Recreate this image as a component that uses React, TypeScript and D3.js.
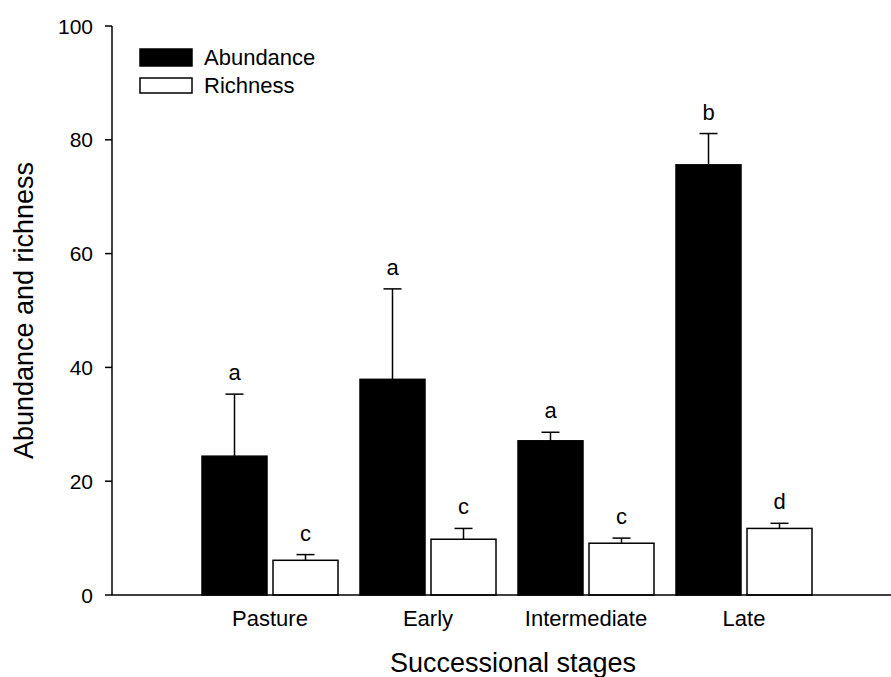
import React, { useEffect, useRef } from "react";
import * as d3 from "d3";

const stages = ["Pasture", "Early", "Intermediate", "Late"];
const abundance = [24.4, 37.9, 27.1, 75.6];
const abundanceErr = [10.9, 15.9, 1.5, 5.5];
const richness = [6.1, 9.8, 9.1, 11.7];
const richnessErr = [1.0, 1.9, 0.9, 0.9];
const abundanceLetters = ["a", "a", "a", "b"];
const richnessLetters = ["c", "c", "c", "d"];
const yTicks = [0, 20, 40, 60, 80, 100];

const App: React.FC = () => {
  const svgRef = useRef<SVGSVGElement | null>(null);

  useEffect(() => {
    if (!svgRef.current) return;
    const svg = d3.select(svgRef.current);
    svg.selectAll("*").remove();

    const font = "'Liberation Sans', Arial, sans-serif";
    const x = d3.scaleLinear().domain([0, 5]).range([112, 902]);
    const y = d3.scaleLinear().domain([0, 100]).range([595, 26]);
    const barW = 65;
    const gap = 6;

    const series = [
      { vals: abundance, err: abundanceErr, letters: abundanceLetters, fill: "#000", off: -gap / 2 - barW },
      { vals: richness, err: richnessErr, letters: richnessLetters, fill: "#fff", off: gap / 2 },
    ];

    series.forEach(s => {
      const g = svg.append("g");
      // error bars (upper only)
      g.selectAll("line.err")
        .data(s.vals)
        .enter()
        .append("line")
        .attr("x1", (d, i) => x(i + 1) + s.off + barW / 2)
        .attr("x2", (d, i) => x(i + 1) + s.off + barW / 2)
        .attr("y1", d => y(d))
        .attr("y2", (d, i) => y(d + s.err[i]))
        .attr("stroke", "#000")
        .attr("stroke-width", 1.5);
      g.selectAll("line.cap")
        .data(s.vals)
        .enter()
        .append("line")
        .attr("x1", (d, i) => x(i + 1) + s.off + barW / 2 - 9)
        .attr("x2", (d, i) => x(i + 1) + s.off + barW / 2 + 9)
        .attr("y1", (d, i) => y(d + s.err[i]))
        .attr("y2", (d, i) => y(d + s.err[i]))
        .attr("stroke", "#000")
        .attr("stroke-width", 1.5);
      g.selectAll("rect")
        .data(s.vals)
        .enter()
        .append("rect")
        .attr("x", (d, i) => x(i + 1) + s.off)
        .attr("y", d => y(d))
        .attr("width", barW)
        .attr("height", d => y(0) - y(d))
        .attr("fill", s.fill)
        .attr("stroke", "#000")
        .attr("stroke-width", 1.5);
      g.selectAll("text")
        .data(s.letters)
        .enter()
        .append("text")
        .attr("x", (d, i) => x(i + 1) + s.off + barW / 2)
        .attr("y", (d, i) => y(s.vals[i] + s.err[i]) - 14)
        .attr("text-anchor", "middle")
        .style("font-family", font)
        .style("font-size", "22px")
        .text(d => d);
    });

    // axes
    svg.append("line")
      .attr("x1", x(0)).attr("x2", 891)
      .attr("y1", y(0)).attr("y2", y(0))
      .attr("stroke", "#000").attr("stroke-width", 1.5);
    svg.append("line")
      .attr("x1", x(0)).attr("x2", x(0))
      .attr("y1", y(0)).attr("y2", y(100))
      .attr("stroke", "#000").attr("stroke-width", 1.5);

    svg.selectAll("line.ytick")
      .data(yTicks)
      .enter()
      .append("line")
      .attr("x1", x(0) - 7).attr("x2", x(0))
      .attr("y1", d => y(d)).attr("y2", d => y(d))
      .attr("stroke", "#000").attr("stroke-width", 1.5);
    svg.selectAll("text.ytick")
      .data(yTicks)
      .enter()
      .append("text")
      .attr("x", x(0) - 19)
      .attr("y", d => y(d) + 7.5)
      .attr("text-anchor", "end")
      .style("font-family", font)
      .style("font-size", "21px")
      .text(d => d);

    svg.selectAll("text.xlab")
      .data(stages)
      .enter()
      .append("text")
      .attr("x", (d, i) => x(i + 1))
      .attr("y", 626)
      .attr("text-anchor", "middle")
      .style("font-family", font)
      .style("font-size", "22px")
      .text(d => d);

    svg.append("text")
      .attr("x", 513)
      .attr("y", 672)
      .attr("text-anchor", "middle")
      .style("font-family", font)
      .style("font-size", "27px")
      .text("Successional stages");

    svg.append("text")
      .attr("transform", `translate(33,${(y(0) + y(100)) / 2}) rotate(-90)`)
      .attr("text-anchor", "middle")
      .style("font-family", font)
      .style("font-size", "27px")
      .text("Abundance and richness");

    // legend
    const legend = [
      { label: "Abundance", fill: "#000" },
      { label: "Richness", fill: "#fff" },
    ];
    const lg = svg.append("g");
    legend.forEach((l, i) => {
      lg.append("rect")
        .attr("x", 140).attr("y", 49 + i * 29)
        .attr("width", 52).attr("height", i === 0 ? 17 : 15)
        .attr("fill", l.fill).attr("stroke", "#000").attr("stroke-width", 1.5);
      lg.append("text")
        .attr("x", 204).attr("y", 65 + i * 28)
        .style("font-family", font)
        .style("font-size", "22px")
        .text(l.label);
    });
  }, []);

  return <svg ref={svgRef} width={891} height={677} style={{ position: "absolute", left: 0, top: 0 }}></svg>;
};

export default App;
